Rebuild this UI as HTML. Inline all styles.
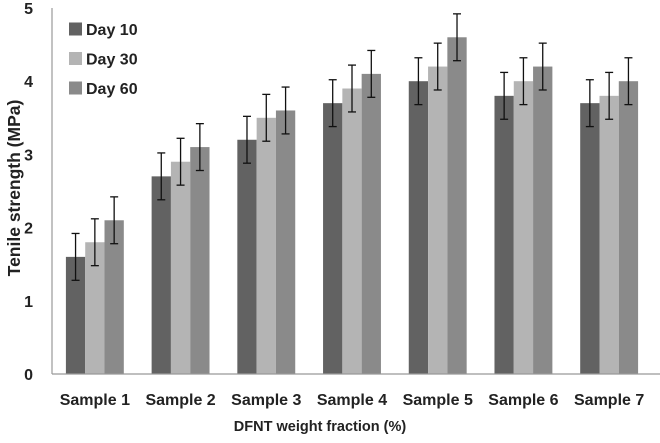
<!DOCTYPE html>
<html><head><meta charset="utf-8"><style>
body{margin:0;background:#fff;}
svg text{font-family:"Liberation Sans",sans-serif;font-weight:bold;fill:#222;}
</style></head><body>
<svg id="chart" width="660" height="438">
<g id="bars"></g>
<line x1="52" y1="8" x2="52" y2="374" stroke="#999" stroke-width="1.2"/>
<line x1="52" y1="374" x2="660" y2="374" stroke="#999" stroke-width="1.2"/>
<g id="yt"></g><g id="xt"></g>
<text x="320" y="431" font-size="14.5" text-anchor="middle">DFNT weight fraction (%)</text>
<text transform="translate(20,188) rotate(-90)" font-size="17.5" text-anchor="middle">Tenile strength (MPa)</text>
<g id="legend"></g>
</svg>
<script>
const categories=["Sample 1","Sample 2","Sample 3","Sample 4","Sample 5","Sample 6","Sample 7"];
const seriesNames=["Day 10","Day 30","Day 60"];
const day10=[1.6,2.7,3.2,3.7,4.0,3.8,3.7];
const day30=[1.8,2.9,3.5,3.9,4.2,4.0,3.8];
const day60=[2.1,3.1,3.6,4.1,4.6,4.2,4.0];
const errors=[0.32,0.32,0.32,0.32,0.32,0.32,0.32];
const yTicks=[0,1,2,3,4,5];
const series=[day10,day30,day60];
const colors=["#626262","#b4b4b4","#8a8a8a"];
const NS="http://www.w3.org/2000/svg";
const x0=52,x1=652,yBase=374,yTop=8,yMax=5;
const y=v=>yBase-(yBase-yTop)*v/yMax;
const band=(x1-x0)/categories.length;
const bw=19.3;
function mk(tag,attrs,parent){const e=document.createElementNS(NS,tag);for(const k in attrs)e.setAttribute(k,attrs[k]);parent.appendChild(e);return e;}
const gb=document.getElementById('bars');
categories.forEach((c,i)=>{
  const cx=x0+band*(i+0.5);
  series.forEach((s,j)=>{
    const bx=cx-1.5*bw+j*bw;
    const r=mk('rect',{x:bx,y:y(s[i]),width:bw,height:yBase-y(s[i]),fill:colors[j]},gb);
    
    
    const mx=bx+bw/2,hi=y(s[i]+errors[i]),lo=y(s[i]-errors[i]);
    const g=mk('g',{stroke:'#111','stroke-width':1.3},gb);
    
    
    mk('line',{x1:mx,x2:mx,y1:hi,y2:lo},g);
    mk('line',{x1:mx-4,x2:mx+4,y1:hi,y2:hi},g);
    mk('line',{x1:mx-4,x2:mx+4,y1:lo,y2:lo},g);
  });
  const t=mk('text',{x:cx,y:405,'font-size':16,'text-anchor':'middle'},document.getElementById('xt'));
  t.textContent=c;
  
  
});
yTicks.forEach(v=>{
  const t=mk('text',{x:33,y:y(v)+6,'font-size':16,'text-anchor':'end'},document.getElementById('yt'));
  t.textContent=v;
  
  
});
const gl=document.getElementById('legend');
seriesNames.forEach((n,j)=>{
  const g=mk('g',{},gl);
  
  
  const cy=29+j*29.5;
  mk('rect',{x:69,y:cy-6.5,width:13,height:13,fill:colors[j]},g);
  const t=mk('text',{x:86,y:cy+6,'font-size':16},g);
  t.textContent=n;
});
</script>
</body></html>
